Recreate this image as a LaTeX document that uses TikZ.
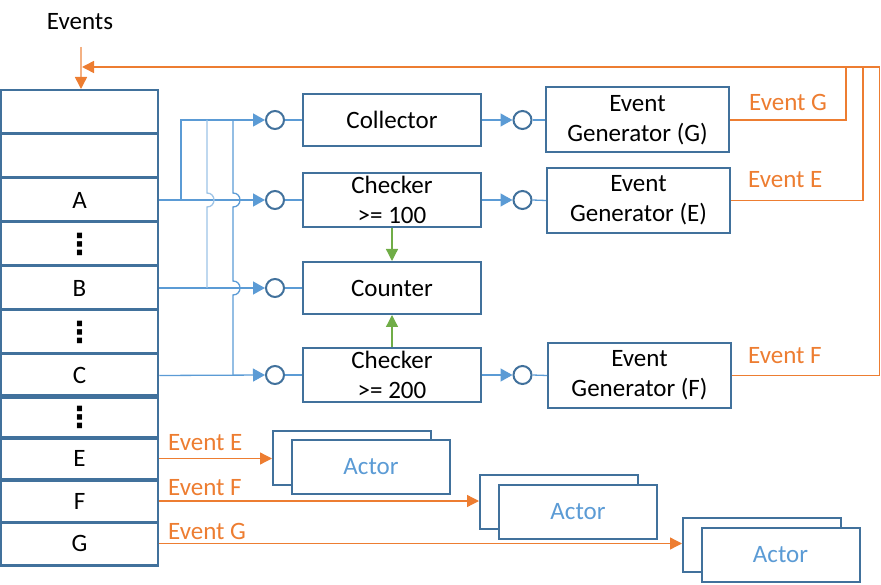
\documentclass[tikz,border=0pt]{standalone}
\usepackage{fontspec}
\setmainfont{Carlito}
\newfontfamily\dejavu{DejaVu Sans}
\usetikzlibrary{arrows.meta}
\definecolor{boxblue}{HTML}{41719C}
\definecolor{lineblue}{HTML}{5B9BD5}
\definecolor{lightblue}{HTML}{9DC3E6}
\definecolor{orng}{HTML}{ED7D31}
\definecolor{lorng}{HTML}{F4B183}
\definecolor{grn}{HTML}{70AD47}
\newcommand{\vdotz}{{\dejavu\bfseries\fontsize{29}{29}\selectfont ⋮}}
\begin{document}
\begin{tikzpicture}[x=1pt,y=-1pt,
  font=\fontsize{25}{30}\selectfont,
  box/.style={draw=boxblue, line width=2pt, minimum width=178pt, minimum height=52pt, align=center, inner sep=0pt, fill=white},
  genbox/.style={box, minimum width=183pt, minimum height=65pt},
  cell/.style={draw=boxblue, line width=2.5pt, minimum width=157pt, minimum height=43.5pt, inner sep=0pt},
  actorbox/.style={draw=boxblue, line width=2pt, minimum width=158pt, minimum height=54pt, inner sep=0pt, fill=white, text=lineblue},
  port/.style={circle, draw=boxblue, line width=2pt, minimum size=18pt, inner sep=0pt, fill=white},
  bl/.style={draw=lineblue, line width=1.3pt},
  blarrow/.style={bl, -{Triangle[length=12pt,width=13pt]}},
  bllight/.style={draw=lightblue, line width=1.3pt},
  orl/.style={draw=orng, line width=1.5pt},
  orarrow/.style={orl, -{Triangle[length=12pt,width=12pt]}},
  grnarrow/.style={draw=grn, line width=1.3pt, -{Triangle[length=12pt,width=12pt]}},
  orlabel/.style={text=orng, anchor=west, inner sep=0pt}
]
\useasboundingbox (0,0) rectangle (881,585);

% label
\node (events) at (80,22) {Events};

% event column
\node[cell] (c1) at (79.5,112) {};
\node[cell] (c2) at (79.5,156) {};
\node[cell] (A) at (79.5,200) {A};
\node[cell] (d1) at (79.5,244) {\vdotz};
\node[cell] (B) at (79.5,288) {B};
\node[cell] (d2) at (79.5,332) {\vdotz};
\node[cell] (C) at (79.5,375.5) {C};
\node[cell] (d3) at (79.5,417) {\vdotz};
\node[cell] (E) at (79.5,458.5) {E};
\node[cell] (F) at (79.5,501) {F};
\node[cell] (G) at (79.5,543.5) {G};

% middle boxes
\node[box] (col) at (392,120) {Collector};
\node[box, minimum height=54pt] (chk1) at (392,200) {Checker\\>= 100};
\node[box] (cnt) at (392,288) {Counter};
\node[box, minimum height=54pt] (chk2) at (392,375) {Checker\\>= 200};

% generators
\node[genbox] (gG) at (637.5,120) {Event\\Generator (G)};
\node[genbox] (gE) at (638.5,200.5) {Event\\Generator (E)};
\node[genbox] (gF) at (639.5,375.5) {Event\\Generator (F)};

% ports
\node[port] (pCol) at (275,120) {};
\node[port] (pA) at (275,200) {};
\node[port] (pB) at (275,288) {};
\node[port] (pC) at (275,375) {};
\node[port] (rG) at (522.5,120) {};
\node[port] (rE) at (522.5,200) {};
\node[port] (rF) at (522.5,375) {};

% junction coordinates
\coordinate (jA) at (181,200);
\coordinate (jAtop) at (181,120);
\coordinate (jB) at (207,120);
\coordinate (jBbot) at (207,288);
\coordinate (jC) at (233,120);
\coordinate (jCbot) at (233,375);

% blue connectors
\draw[blarrow] (A.east) -- (pA.west);
\draw[blarrow] (B.east) -- (pB.west);
\draw[blarrow] (C.east) -- (pC.west);
\draw[blarrow] (jA) -- (jAtop) -- (pCol.west);
\draw[bllight] (jB) -- (207,193) .. controls (216.3,193) and (216.3,207) .. (207,207) -- (jBbot);
\draw[bl] (jC) -- (233,193) .. controls (242.3,193) and (242.3,207) .. (233,207)
  -- (233,281) .. controls (242.3,281) and (242.3,295) .. (233,295) -- (jCbot);
\draw[bl] (pCol.east) -- (col.west);
\draw[bl] (pA.east) -- (chk1.west);
\draw[bl] (pB.east) -- (cnt.west);
\draw[bl] (pC.east) -- (chk2.west);
\draw[blarrow] (col.east) -- (rG.west);
\draw[blarrow] (chk1.east) -- (rE.west);
\draw[blarrow] (chk2.east) -- (rF.west);
\draw[bl] (rG.east) -- (gG.west);
\draw[bl] (rE.east) -- (gE.west);
\draw[bl] (rF.east) -- (gF.west);

% green
\draw[grnarrow] (chk1.south) -- (cnt.north);
\draw[grnarrow] (chk2.north) -- (cnt.south);

% orange feedback
\coordinate (oG) at (846,67);
\coordinate (oE) at (863,67);
\coordinate (oF) at (879.5,67);
\coordinate (evtop) at (81,47);
\coordinate (evjoin) at (82,67);
\draw[orl] (gG.east) -| (oG);
\draw[orl] (gE.east) -| (oE);
\draw[orarrow] (gF.east) -| (oF) -- (evjoin);
\draw[draw=lorng, line width=1.5pt] (evtop) -- (81,80);
\draw[orarrow] (81,78) -- (evtop |- c1.north);

\node[orlabel] (lG) at (749,102) {Event G};
\node[orlabel] (lE) at (748,180) {Event E};
\node[orlabel] (lF) at (748,356) {Event F};

% actors
\node[actorbox] (a1b) at (352,458) {};
\node[actorbox] (a1) at (371,466.5) {Actor};
\node[actorbox] (a2b) at (559,502) {};
\node[actorbox] (a2) at (578,512) {Actor};
\node[actorbox] (a3b) at (762,545) {};
\node[actorbox] (a3) at (780.5,555) {Actor};

\draw[orarrow, line width=1.3pt] (E.east) -- (E.east -| a1b.west);
\draw[orarrow, line width=1.3pt] (F.east) -- (F.east -| a2b.west);
\draw[orarrow, line width=1.3pt] (G.east) -- (G.east -| a3b.west);

\node[orlabel] (bE) at (168,443) {Event E};
\node[orlabel] (bF) at (168,488) {Event F};
\node[orlabel] (bG) at (168,531) {Event G};
\end{tikzpicture}
\end{document}
